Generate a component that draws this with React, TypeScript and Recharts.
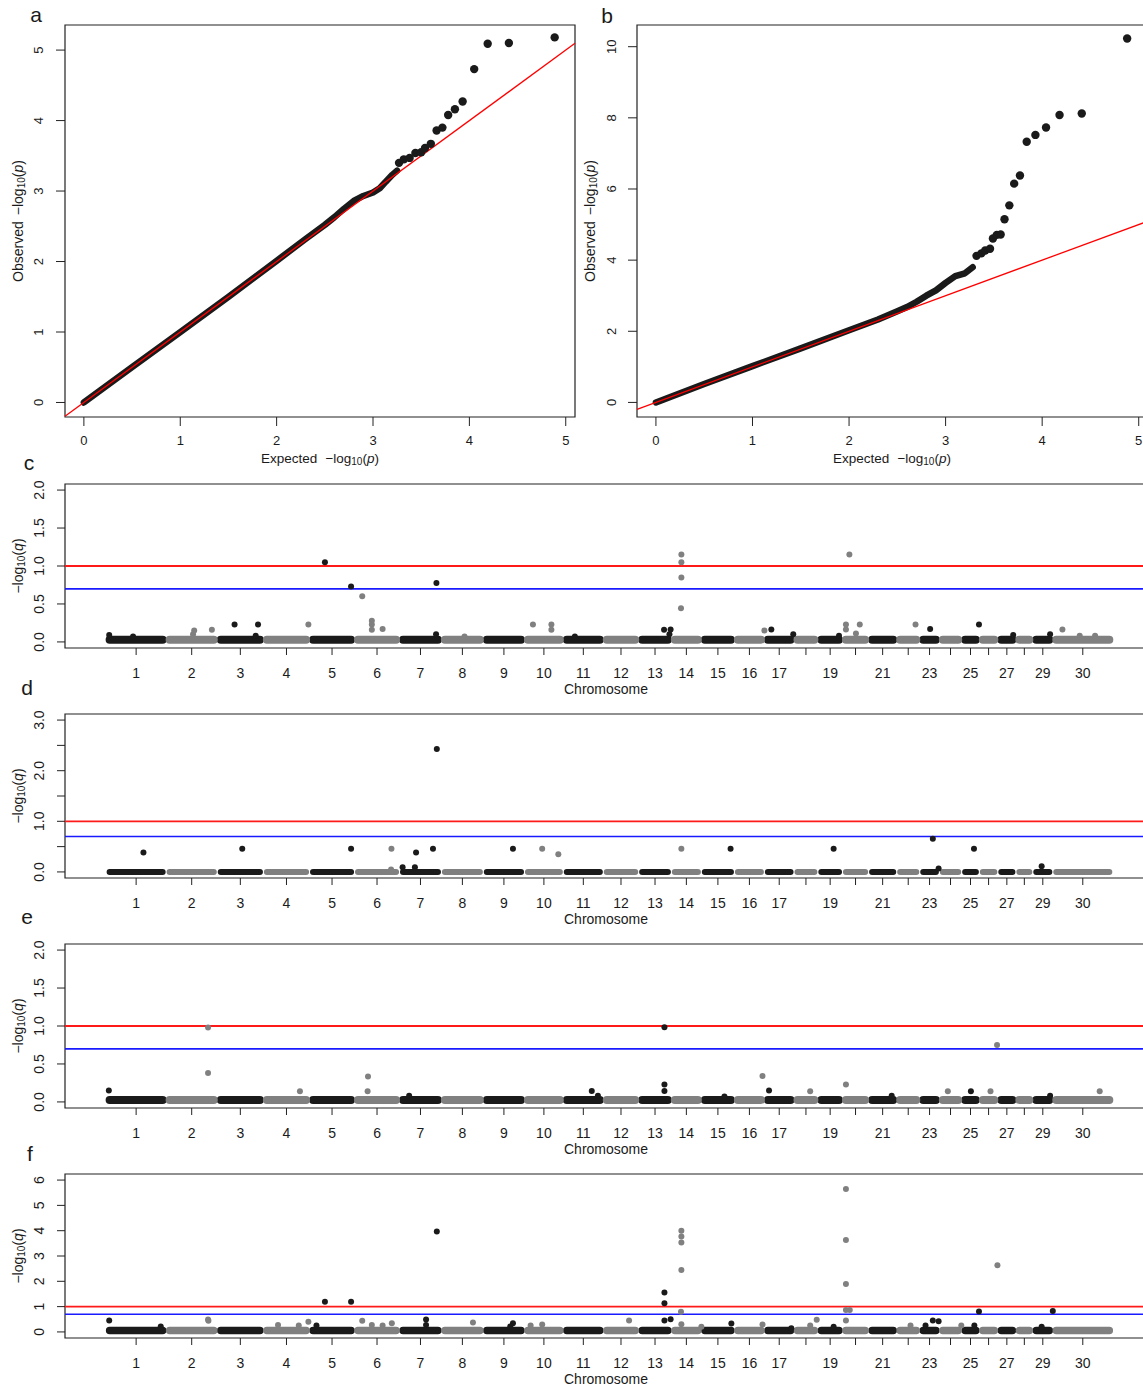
import React from 'react';
import { ComposedChart, Scatter, Line, XAxis, YAxis, ReferenceLine, ReferenceArea } from 'recharts';

const FONT = '"Liberation Sans", Arial, Helvetica, sans-serif';
const INK = '#1a1a1a';
const GREY = '#808080';

// ---------- QQ plots: expected vs observed -log10(p) ----------
// dense part of the curve (drawn as a thick band)
const qqBandExpA = [0, 0.5, 1, 1.5, 2, 2.3, 2.5, 2.6, 2.7, 2.8, 2.9, 3.0, 3.07, 3.13, 3.2, 3.25];
const qqBandObsA = [0, 0.5, 1, 1.5, 2.01, 2.32, 2.52, 2.63, 2.75, 2.86, 2.93, 2.98, 3.04, 3.13, 3.23, 3.29];
// separated points in the upper tail
const qqTailExpA = [3.27, 3.32, 3.38, 3.44, 3.5, 3.54, 3.6, 3.66, 3.72, 3.78, 3.85, 3.93, 4.05, 4.19, 4.41, 4.885];
const qqTailObsA = [3.4, 3.45, 3.47, 3.54, 3.55, 3.61, 3.67, 3.86, 3.9, 4.08, 4.16, 4.27, 4.73, 5.09, 5.1, 5.18];

const qqBandExpB = [0, 0.5, 1, 1.5, 2, 2.3, 2.5, 2.6, 2.7, 2.8, 2.9, 3.0, 3.1, 3.2, 3.28];
const qqBandObsB = [0, 0.52, 1.02, 1.52, 2.03, 2.33, 2.56, 2.68, 2.83, 3.0, 3.15, 3.36, 3.55, 3.63, 3.8];
const qqTailExpB = [3.32, 3.37, 3.41, 3.46, 3.49, 3.53, 3.57, 3.61, 3.66, 3.71, 3.77, 3.84, 3.93, 4.04, 4.18, 4.41, 4.88];
const qqTailObsB = [4.12, 4.19, 4.27, 4.32, 4.61, 4.71, 4.72, 5.15, 5.54, 6.15, 6.38, 7.33, 7.52, 7.73, 8.08, 8.12, 10.23];

const qqXTicks = [0, 1, 2, 3, 4, 5];
const qqYTicksA = [0, 1, 2, 3, 4, 5];
const qqYTicksB = [0, 2, 4, 6, 8, 10];
const QQ_X_DOMAIN: [number, number] = [-0.196, 5.096];

// ---------- Manhattan plots ----------
const chromSizeMb = [156, 133, 120, 120, 117, 117, 109, 109, 107, 101, 104, 92, 85, 78, 86, 78, 77, 62, 64, 68, 73, 60, 51, 58, 46, 48, 47, 44, 52, 156];
const chromLabels = ['1', '2', '3', '4', '5', '6', '7', '8', '9', '10', '11', '12', '13', '14', '15', '16', '17', '', '19', '', '21', '', '23', '', '25', '', '27', '', '29', '30'];
const GENOME_DOMAIN: [number, number] = [-107, 2707];

type Hit = [number, number, number]; // chromosome, position (Mb), -log10(q)

const hitsC: Hit[] = [
  [5, 40, 1.05], [5, 108, 0.73], [6, 20, 0.6], [7, 96, 0.775],
  [3, 45, 0.23], [3, 106, 0.23], [4, 117, 0.23], [2, 73, 0.15], [2, 119, 0.16],
  [6, 45, 0.28], [6, 45, 0.23], [6, 45, 0.16], [6, 73, 0.17],
  [10, 22, 0.23], [10, 70, 0.23], [10, 70, 0.16],
  [14, 26, 1.15], [14, 26, 1.05], [14, 26, 0.85], [14, 25, 0.445],
  [20, 18, 1.15], [13, 66, 0.16], [13, 83, 0.165], [17, 18, 0.165], [16, 78, 0.15],
  [20, 9, 0.23], [20, 9, 0.165], [20, 45, 0.23], [20, 35, 0.11],
  [22, 49, 0.23], [23, 27, 0.17], [25, 45, 0.23], [30, 25, 0.165], [17, 75, 0.1],
  [1, 8, 0.09], [1, 70, 0.07], [2, 70, 0.1], [3, 100, 0.08], [7, 95, 0.1], [8, 60, 0.07],
  [11, 30, 0.07], [13, 80, 0.1], [19, 55, 0.08], [27, 40, 0.09], [29, 45, 0.1], [30, 70, 0.08], [30, 110, 0.08],
];

const hitsD: Hit[] = [
  [7, 97, 2.43], [1, 97, 0.385], [3, 65, 0.46], [5, 108, 0.46], [6, 96, 0.46], [7, 43, 0.385],
  [7, 87, 0.46], [9, 77, 0.46], [10, 46, 0.46], [10, 88, 0.35],
  [14, 26, 0.46], [15, 76, 0.46], [19, 41, 0.46], [23, 34, 0.655], [25, 32, 0.46], [29, 23, 0.11], [23, 49, 0.07],
  [7, 8, 0.09], [7, 40, 0.09], [6, 95, 0.05],
];

const hitsE: Hit[] = [
  [2, 109, 0.98], [2, 109, 0.38], [6, 35, 0.335], [6, 34, 0.14], [4, 95, 0.14], [1, 7, 0.15], [11, 74, 0.145],
  [13, 67, 0.985], [13, 67, 0.23], [13, 67, 0.145], [26, 46, 0.75], [16, 73, 0.34], [20, 9, 0.23],
  [17, 12, 0.15], [18, 42, 0.14], [25, 24, 0.14], [26, 29, 0.14], [24, 22, 0.14], [30, 122, 0.14],
  [7, 25, 0.08], [11, 90, 0.08], [15, 60, 0.07], [21, 60, 0.08], [29, 45, 0.08],
];

const hitsF: Hit[] = [
  [7, 97, 3.97], [5, 40, 1.19], [5, 108, 1.19], [1, 8, 0.45], [2, 109, 0.49], [2, 110, 0.44],
  [4, 38, 0.27], [4, 92, 0.25], [4, 117, 0.4], [5, 18, 0.25], [6, 20, 0.44], [6, 45, 0.27], [6, 73, 0.25],
  [6, 97, 0.345], [7, 69, 0.49], [7, 69, 0.27], [8, 82, 0.37], [9, 77, 0.345], [9, 70, 0.21],
  [10, 46, 0.29], [10, 16, 0.25], [1, 142, 0.21],
  [20, 9, 5.65], [20, 9, 3.63], [20, 9, 1.89], [20, 9, 0.87], [20, 19, 0.87], [20, 9, 0.45],
  [14, 26, 4.0], [14, 26, 3.77], [14, 26, 3.53], [14, 26, 2.45], [14, 25, 0.8], [14, 26, 0.3],
  [13, 67, 1.56], [13, 67, 1.13], [13, 83, 0.5], [13, 67, 0.45],
  [26, 47, 2.63], [25, 45, 0.81], [29, 52, 0.83], [12, 67, 0.45], [15, 78, 0.33], [16, 73, 0.29],
  [18, 59, 0.48], [19, 41, 0.2], [23, 34, 0.45], [23, 49, 0.42], [23, 15, 0.25], [25, 33, 0.25],
  [24, 57, 0.25], [29, 23, 0.2], [22, 36, 0.25], [14, 78, 0.2], [17, 70, 0.15], [18, 42, 0.25],
];

const Q_RED = 1; // q = 0.1
const Q_BLUE = 0.699; // q = 0.2

const chromOffset: number[] = [];
chromSizeMb.forEach((s, i) => chromOffset.push(i === 0 ? 0 : chromOffset[i - 1] + chromSizeMb[i - 1]));
const chromMid = chromSizeMb.map((s, i) => chromOffset[i] + s / 2);
const chromLabelAt = new Map(chromMid.map((m, i) => [m, chromLabels[i]]));

const BAND_INSET = 9;

function bandData(odd: boolean, level: number) {
  const out: { x: number; y: number | null }[] = [];
  chromSizeMb.forEach((s, i) => {
    if (((i + 1) % 2 === 1) !== odd) return;
    out.push({ x: chromOffset[i] + BAND_INSET, y: level });
    out.push({ x: chromOffset[i] + s - BAND_INSET, y: level });
    out.push({ x: chromOffset[i] + s, y: null });
  });
  return out;
}

function hitPoints(hits: Hit[], odd: boolean) {
  return hits
    .filter(([c]) => (c % 2 === 1) === odd)
    .map(([c, pos, q]) => ({ x: chromOffset[c - 1] + pos, y: q }));
}

const manhattanPanels = [
  { id: 'c', top: 470, hits: hitsC, level: 0.03, band: 8, yDomain: [-0.08, 2.08], yTicks: [0, 0.5, 1, 1.5, 2], yLabels: ['0.0', '0.5', '1.0', '1.5', '2.0'] },
  { id: 'd', top: 700, hits: hitsD, level: 0, band: 6, yDomain: [-0.12, 3.12], yTicks: [0, 0.5, 1, 1.5, 2, 2.5, 3], yLabels: ['0.0', '', '1.0', '', '2.0', '', '3.0'] },
  { id: 'e', top: 930, hits: hitsE, level: 0.027, band: 8, yDomain: [-0.08, 2.08], yTicks: [0, 0.5, 1, 1.5, 2], yLabels: ['0.0', '0.5', '1.0', '1.5', '2.0'] },
  { id: 'f', top: 1160, hits: hitsF, level: 0.055, band: 7.5, yDomain: [-0.24, 6.24], yTicks: [0, 1, 2, 3, 4, 5, 6], yLabels: ['0', '1', '2', '3', '4', '5', '6'] },
];

// ---------- helpers ----------
const dotShape = (r: number, fill: string) => (p: any) =>
  p.cx == null || p.cy == null ? <g /> : <circle cx={p.cx} cy={p.cy} r={r} fill={fill} />;

const yTick = (labelFor: (v: number) => string, size = 14) => (p: any) => (
  <text x={p.x} y={p.y} transform={`rotate(-90 ${p.x} ${p.y})`} textAnchor="middle" dominantBaseline="central" fontFamily={FONT} fontSize={size} fill={INK}>
    {labelFor(p.payload.value)}
  </text>
);

const xTick = (labelFor: (v: number) => string, size = 14) => (p: any) => (
  <text x={p.x} y={p.y} textAnchor="middle" dominantBaseline="central" fontFamily={FONT} fontSize={size} fill={INK}>
    {labelFor(p.payload.value)}
  </text>
);

const BOX = { stroke: '#222', strokeWidth: 1.2 };

function QQPanel(props: { left: number; plotW: number; bandExp: number[]; bandObs: number[]; tailExp: number[]; tailObs: number[]; yDomain: [number, number]; yTicks: number[]; tickMargin: number }) {
  const { left, plotW, yDomain } = props;
  const band = props.bandExp.map((x, i) => ({ x, y: props.bandObs[i] }));
  const tail = props.tailExp.map((x, i) => ({ x, y: props.tailObs[i] }));
  const width = 600;
  return (
    <div style={{ position: 'absolute', left, top: 0 }}>
      <ComposedChart width={width} height={470} margin={{ top: 25, right: width - 65 - plotW, bottom: 0, left: 0 }}>
        <XAxis type="number" dataKey="x" domain={QQ_X_DOMAIN} allowDataOverflow ticks={qqXTicks} interval={0} axisLine={false}
          tickSize={9} tickMargin={14} tickLine={{ stroke: '#222' }} tick={xTick((v) => String(v), 13)} height={53} />
        <YAxis type="number" dataKey="y" domain={yDomain} allowDataOverflow ticks={props.yTicks} interval={0} axisLine={false}
          tickSize={9} tickMargin={props.tickMargin} tickLine={{ stroke: '#222' }} tick={yTick((v) => String(v), 13)} width={65} />
        <ReferenceArea x1={QQ_X_DOMAIN[0]} x2={QQ_X_DOMAIN[1]} y1={yDomain[0]} y2={yDomain[1]} fill="none" fillOpacity={0} ifOverflow="visible" {...BOX} />
        <Line data={band} dataKey="y" stroke={INK} strokeWidth={6.5} strokeLinecap="round" strokeLinejoin="round" dot={false} activeDot={false} isAnimationActive={false} />
        <Scatter data={tail} shape={dotShape(4.2, INK)} isAnimationActive={false} />
        <ReferenceLine segment={[{ x: QQ_X_DOMAIN[0], y: QQ_X_DOMAIN[0] }, { x: QQ_X_DOMAIN[1], y: QQ_X_DOMAIN[1] }]} stroke="#ff0000" strokeWidth={1.3} ifOverflow="visible" />
      </ComposedChart>
    </div>
  );
}

function ManhattanPanel({ cfg }: { cfg: (typeof manhattanPanels)[number] }) {
  const yDomain = cfg.yDomain as [number, number];
  const yLabelAt = new Map(cfg.yTicks.map((t, i) => [t, cfg.yLabels[i]]));
  return (
    <div style={{ position: 'absolute', left: 0, top: cfg.top }}>
      <ComposedChart width={1160} height={230} margin={{ top: 14, right: 13, bottom: 0, left: 0 }}>
        <XAxis type="number" dataKey="x" domain={GENOME_DOMAIN} allowDataOverflow ticks={chromMid} interval={0} axisLine={false}
          tickSize={7} tickMargin={18} tickLine={{ stroke: '#222' }} tick={xTick((v) => chromLabelAt.get(v) ?? '')} height={52} />
        <YAxis type="number" dataKey="y" domain={yDomain} allowDataOverflow ticks={cfg.yTicks} interval={0} axisLine={false}
          tickSize={8} tickMargin={18} tickLine={{ stroke: '#222' }} tick={yTick((v) => yLabelAt.get(v) ?? '')} width={65} />
        <ReferenceArea x1={GENOME_DOMAIN[0]} x2={GENOME_DOMAIN[1]} y1={yDomain[0]} y2={yDomain[1]} fill="none" fillOpacity={0} ifOverflow="visible" {...BOX} />
        <Line data={bandData(true, cfg.level)} dataKey="y" stroke={INK} strokeWidth={cfg.band} strokeLinecap="round" dot={false} activeDot={false} isAnimationActive={false} />
        <Line data={bandData(false, cfg.level)} dataKey="y" stroke={GREY} strokeWidth={cfg.band} strokeLinecap="round" dot={false} activeDot={false} isAnimationActive={false} />
        <Scatter data={hitPoints(cfg.hits, true)} shape={dotShape(3, INK)} isAnimationActive={false} />
        <Scatter data={hitPoints(cfg.hits, false)} shape={dotShape(3, GREY)} isAnimationActive={false} />
        <ReferenceLine y={Q_RED} stroke="#ff1a1a" strokeWidth={1.8} ifOverflow="visible" />
        <ReferenceLine y={Q_BLUE} stroke="#1a1aff" strokeWidth={1.6} ifOverflow="visible" />
      </ComposedChart>
    </div>
  );
}

const Sub = ({ children }: { children: string }) => (
  <>
    <tspan fontSize={10} dy={3}>{children}</tspan>
    <tspan dy={-3}>(</tspan>
  </>
);

function Labels() {
  const t = { fontFamily: FONT, fill: INK, dominantBaseline: 'central' as const, textAnchor: 'middle' as const };
  const letters: [string, number, number][] = [['a', 36, 14], ['b', 607, 15], ['c', 29, 462], ['d', 27, 687], ['e', 27, 916], ['f', 30, 1153]];
  return (
    <svg width={1143} height={1388} style={{ position: 'absolute', left: 0, top: 0, pointerEvents: 'none' }}>
      {letters.map(([l, x, y]) => (
        <text key={l} x={x} y={y} fontSize={21} {...t}>{l}</text>
      ))}
      {[320, 892].map((cx) => (
        <text key={'xe' + cx} x={cx} y={458} fontSize={13.5} {...t}>
          Expected<tspan dx={8}>−log</tspan><Sub>10</Sub><tspan fontStyle="italic">p</tspan>)
        </text>
      ))}
      {[18, 590].map((cx) => (
        <text key={'yo' + cx} x={cx} y={221} transform={`rotate(-90 ${cx} 221)`} fontSize={14} {...t}>
          Observed<tspan dx={6}>−log</tspan><Sub>10</Sub><tspan fontStyle="italic">p</tspan>)
        </text>
      ))}
      {manhattanPanels.map((p) => (
        <g key={'m' + p.id}>
          <text x={18} y={p.top + 96} transform={`rotate(-90 18 ${p.top + 96})`} fontSize={14} {...t}>
            −log<Sub>10</Sub><tspan fontStyle="italic">q</tspan>)
          </text>
          <text x={606} y={p.top + 219} fontSize={14} {...t}>Chromosome</text>
        </g>
      ))}
    </svg>
  );
}

export default function App() {
  return (
    <div style={{ position: 'absolute', left: 0, top: 0, width: 1143, height: 1388, overflow: 'hidden', background: '#fff', fontFamily: FONT }}>
      <QQPanel left={0} plotW={510} bandExp={qqBandExpA} bandObs={qqBandObsA} tailExp={qqTailExpA} tailObs={qqTailObsA}
        yDomain={[-0.206, 5.356]} yTicks={qqYTicksA} tickMargin={17} />
      <QQPanel left={572} plotW={511} bandExp={qqBandExpB} bandObs={qqBandObsB} tailExp={qqTailExpB} tailObs={qqTailObsB}
        yDomain={[-0.41, 10.61]} yTicks={qqYTicksB} tickMargin={16} />
      {manhattanPanels.map((cfg) => (
        <ManhattanPanel key={cfg.id} cfg={cfg} />
      ))}
      <Labels />
    </div>
  );
}
